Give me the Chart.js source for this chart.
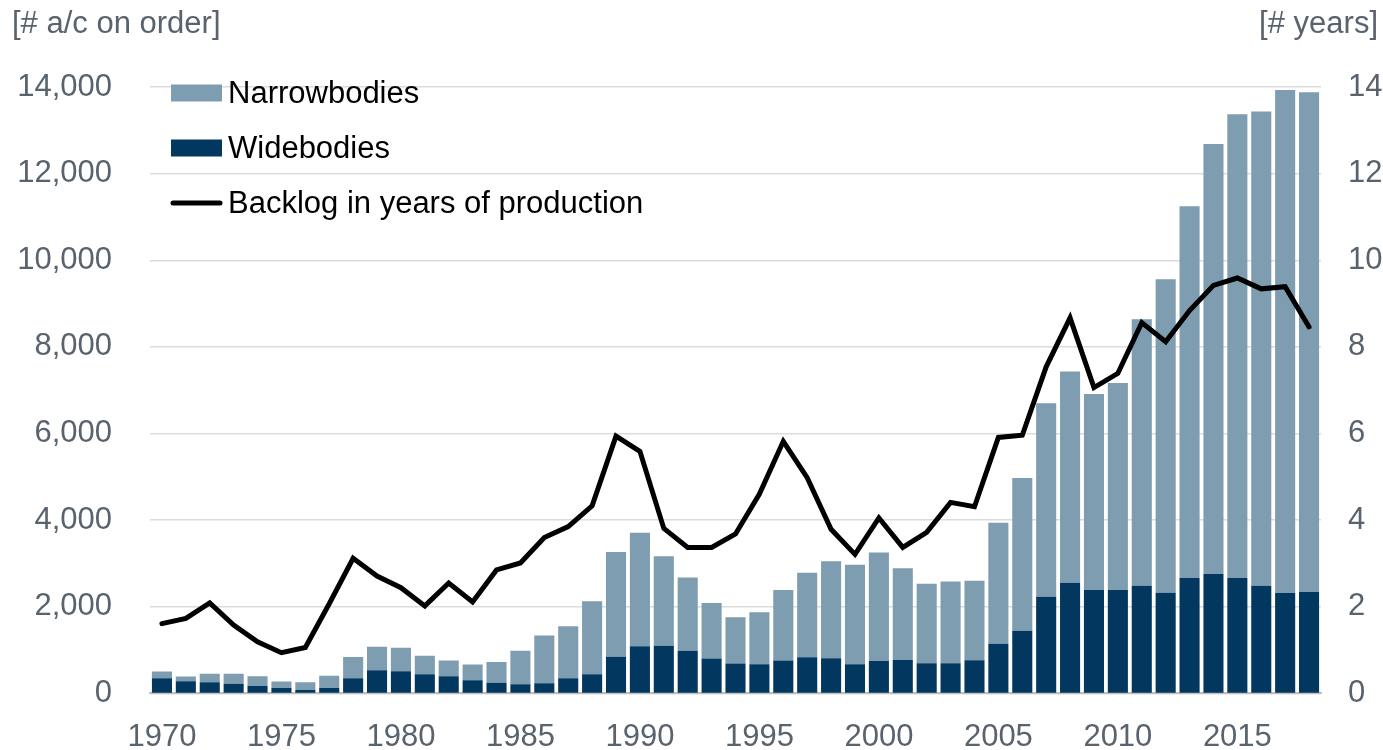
<!DOCTYPE html>
<html>
<head>
<meta charset="utf-8">
<script src="https://cdn.jsdelivr.net/npm/chart.js@4"></script>
<style>
    html, body { margin: 0; padding: 0; background: #fff; }
    #wrap { width: 1383px; height: 750px; position: relative; }
</style>
</head>
<body>
<div id="wrap"><canvas id="chart"></canvas></div>
<script>
// data
const years = [];
for (let y = 1970; y <= 2018; y++) years.push(String(y));

const widebodies = [
    351, 283, 260, 222, 168, 122, 77, 122, 351, 536,
    512, 444, 398, 306, 245, 214, 237, 352, 444, 849,
    1086, 1102, 987, 803, 689, 673, 757, 834, 811, 673,
    750, 773, 696, 696, 765, 1148, 1446, 2234, 2555, 2387,
    2387, 2486, 2325, 2662, 2754, 2662, 2486, 2318, 2341
];
const narrowbodies = [
    154, 107, 191, 229, 230, 153, 183, 284, 491, 543,
    544, 428, 359, 360, 482, 773, 1102, 1201, 1683, 2417,
    2625, 2065, 1691, 1285, 1071, 1202, 1630, 1950, 2241, 2295,
    2501, 2119, 1835, 1890, 1836, 2792, 3527, 4467, 4874, 4528,
    4781, 6150, 7238, 8583, 9930, 10711, 10947, 11613, 11537
];
const backlogYears = [
    1.61, 1.73, 2.09, 1.58, 1.19, 0.94, 1.06, 2.07, 3.12, 2.71,
    2.44, 2.02, 2.55, 2.11, 2.85, 3.01, 3.60, 3.85, 4.33, 5.94,
    5.59, 3.81, 3.37, 3.37, 3.68, 4.60, 5.82, 4.98, 3.79, 3.21,
    4.05, 3.37, 3.72, 4.41, 4.31, 5.91, 5.96, 7.54, 8.67, 7.06,
    7.39, 8.56, 8.12, 8.84, 9.42, 9.59, 9.34, 9.39, 8.46
];
const legendOrder = ["Narrowbodies", "Widebodies", "Backlog in years of production"];

const FONT = "'Liberation Sans', Arial, sans-serif";
const GREY_TEXT = "#59636e";

// axis unit labels + legend inside the plot
const overlayPlugin = {
    id: "overlay",
    afterDraw(chart) {
        const ctx = chart.ctx;
        ctx.save();
        ctx.font = `31px ${FONT}`;
        ctx.fillStyle = GREY_TEXT;
        ctx.textBaseline = "middle";
        ctx.textAlign = "left";
        ctx.fillText("[# a/c on order]", 12, 24);
        ctx.textAlign = "right";
        ctx.fillText("[# years]", 1378, 24);

        // legend
        ctx.textAlign = "left";
        legendOrder.forEach((name, i) => {
            const ds = chart.data.datasets.find(d => d.label === name);
            const cy = 93 + i * 55;
            if (ds.type === "line") {
                ctx.strokeStyle = ds.borderColor;
                ctx.lineWidth = 5;
                ctx.lineCap = "round";
                ctx.beginPath();
                ctx.moveTo(173, cy);
                ctx.lineTo(220, cy);
                ctx.stroke();
            } else {
                ctx.fillStyle = ds.backgroundColor;
                ctx.fillRect(171, cy - 8.5, 51, 17);
            }
            ctx.fillStyle = "#000";
            ctx.fillText(name, 228, cy + 1);
        });
        ctx.restore();
    }
};

new Chart(document.getElementById("chart"), {
    data: {
        labels: years,
        datasets: [
            {
                type: "line",
                label: "Backlog in years of production",
                data: backlogYears,
                yAxisID: "yRight",
                borderColor: "#000",
                borderWidth: 5,
                borderJoinStyle: "miter",
                borderCapStyle: "round",
                pointRadius: 0,
                tension: 0,
                order: 0,
            },
            {
                type: "bar",
                label: "Widebodies",
                data: widebodies,
                yAxisID: "y",
                backgroundColor: "#02375f",
                stack: "ac",
                order: 1,
                categoryPercentage: 1,
                barPercentage: 0.84,
            },
            {
                type: "bar",
                label: "Narrowbodies",
                data: narrowbodies,
                yAxisID: "y",
                backgroundColor: "#7e9db1",
                stack: "ac",
                order: 1,
                categoryPercentage: 1,
                barPercentage: 0.84,
            },
        ],
    },
    options: {
        responsive: true,
        maintainAspectRatio: false,
        animation: false,
        layout: { padding: { top: 87, left: 0, right: 0, bottom: 0 } },
        plugins: {
            legend: { display: false },
            tooltip: { enabled: false },
        },
        scales: {
            x: {
                stacked: true,
                grid: { display: false, drawTicks: false },
                border: { display: true, color: "#bfbfbf", width: 2 },
                ticks: {
                    autoSkip: false,
                    maxRotation: 0,
                    padding: 25,
                    color: GREY_TEXT,
                    font: { family: FONT, size: 31 },
                    callback: function(value) {
                        const label = this.getLabelForValue(value);
                        return Number(label) % 5 === 0 ? label : "";
                    },
                },
                afterFit: (scale) => { scale.height = 53; },
            },
            y: {
                stacked: true,
                position: "left",
                min: 0,
                max: 14000,
                grid: { color: "#dcdcdc", lineWidth: 1.5, drawTicks: false },
                border: { display: false },
                ticks: {
                    stepSize: 2000,
                    padding: 38,
                    color: GREY_TEXT,
                    font: { family: FONT, size: 31 },
                    callback: (v) => v.toLocaleString("en-US"),
                },
                afterFit: (scale) => { scale.width = 150; },
            },
            yRight: {
                position: "right",
                min: 0,
                max: 14,
                grid: { display: false, drawTicks: false },
                border: { display: false },
                ticks: {
                    stepSize: 2,
                    padding: 27,
                    color: GREY_TEXT,
                    font: { family: FONT, size: 31 },
                },
                afterFit: (scale) => { scale.width = 62; },
            },
        },
    },
    plugins: [overlayPlugin],
});
</script>
</body>
</html>
